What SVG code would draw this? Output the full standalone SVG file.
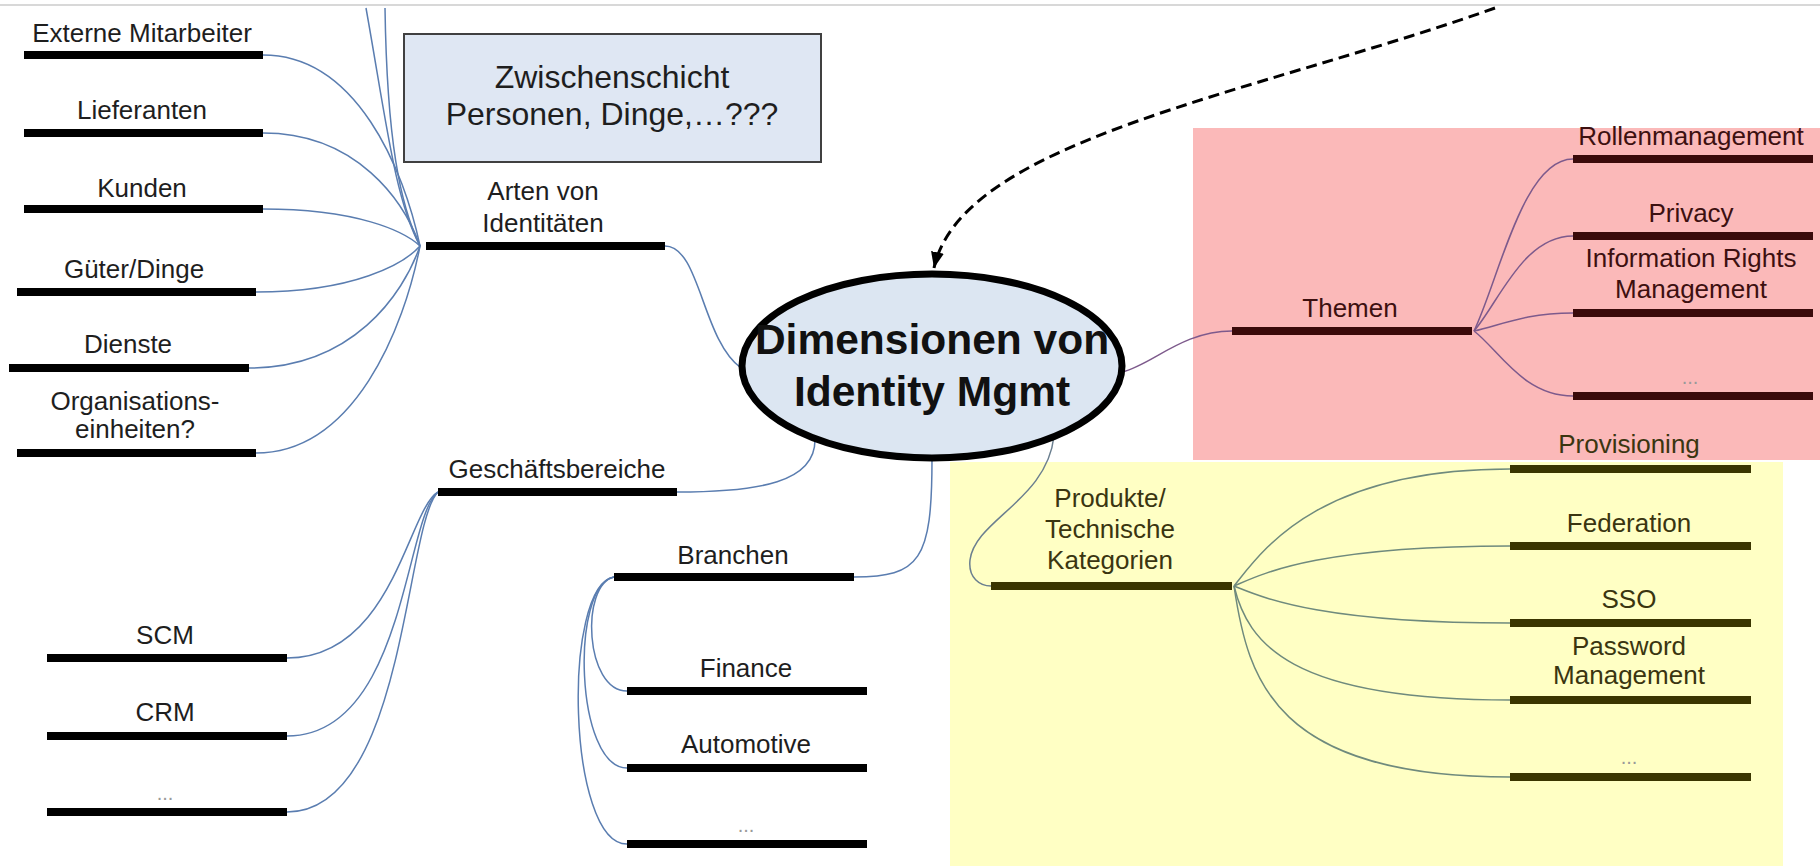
<svg xmlns="http://www.w3.org/2000/svg" width="1820" height="866" viewBox="0 0 1820 866">
<style>
.t{font-family:"Liberation Sans",Arial,sans-serif;font-size:26px;text-anchor:middle}
.tk{fill:#1e1e1e}
.tr{fill:#3d1010}
.to{fill:#3a3510}
.dots{font-family:"Liberation Sans",Arial,sans-serif;font-size:20px;text-anchor:middle;fill:#9a9a9a}
.bk{fill:#000}
.br{fill:#3a0a0a}
.bo{fill:#3a3500}
.c{fill:none;stroke-width:1.5}
.cb{stroke:#5a7db0}
.cp{stroke:#7d5a8c}
.cg{stroke:#6f8a7d}
.cs{stroke:#6b7f8f}
</style>
<defs>
<marker id="arr" markerUnits="userSpaceOnUse" markerWidth="18" markerHeight="14" refX="16" refY="6.5" orient="auto">
<path d="M0,0 L16,6.5 L0,13 z" fill="#000"/>
</marker>
</defs>
<rect x="0" y="0" width="1820" height="866" fill="#fff"/>
<line x1="0" y1="5" x2="1820" y2="5" stroke="#d8d8d8" stroke-width="2"/>
<g id="zone-themen"><rect x="1193" y="128" width="627" height="332" fill="#fbb9b9"/></g>
<g id="zone-produkte"><rect x="950" y="462" width="833" height="404" fill="#ffffc4"/></g>
<g id="connectors">
<path class="c cb" d="M420,246 C395,200 386,120 366,8"/>
<path class="c cb" d="M420,246 C400,205 387,140 385,8"/>
<path class="c cb" d="M420,246 C404,170 357,55 263,55"/>
<path class="c cb" d="M420,246 C404,201 357,133 263,133"/>
<path class="c cb" d="M420,246 C404,231 357,209 263,209"/>
<path class="c cb" d="M420,246 C404,264 354,292 256,292"/>
<path class="c cb" d="M420,246 C403,295 352,368 249,368"/>
<path class="c cb" d="M420,246 C404,329 354,453 256,453"/>
<path class="c cb" d="M438,492 C408,509 393,658 287,658"/>
<path class="c cb" d="M438,492 C405,516 405,736 287,736"/>
<path class="c cb" d="M438,492 C405,524 405,812 287,812"/>
<path class="c cb" d="M614,577 C580,585 585,691 627,691"/>
<path class="c cb" d="M614,577 C570,585 575,768 627,768"/>
<path class="c cb" d="M614,577 C562,585 567,844 627,844"/>
<path class="c cp" d="M1474,331 C1499,279 1523,159 1573,159"/>
<path class="c cp" d="M1474,331 C1499,302 1523,236 1573,236"/>
<path class="c cp" d="M1474,331 C1499,326 1523,313 1573,313"/>
<path class="c cp" d="M1474,331 C1499,350 1523,396 1573,396"/>
<path class="c cg" d="M1234,586 C1262,551 1317,469 1510,469"/>
<path class="c cg" d="M1234,586 C1262,574 1317,546 1510,546"/>
<path class="c cg" d="M1234,586 C1262,597 1317,623 1510,623"/>
<path class="c cg" d="M1234,586 C1248,643 1289,700 1510,700"/>
<path class="c cg" d="M1234,586 C1248,681 1275,777 1510,777"/>
<path class="c cb" d="M665,246 C700,246 702,340 741,368"/>
<path class="c cb" d="M677,492 C760,492 815,482 815,440"/>
<path class="c cb" d="M854,577 C920,577 932,560 932,459"/>
<path class="c cs" d="M1054,436 C1047,500 975,520 970,560 C968,578 980,586 991,586"/>
<path class="c cp" d="M1122,372 C1152,365 1182,331 1232,331"/>
<path d="M1495,8 C1250,95 962,140 934,268" fill="none" stroke="#000" stroke-width="3" stroke-dasharray="11 6" marker-end="url(#arr)"/>
</g>
<g id="zwischenschicht">
<rect x="404" y="34" width="417" height="128" fill="#dfe7f3" stroke="#404040" stroke-width="2"/>
<text class="t tk" style="font-size:32px" x="612" y="88">Zwischenschicht</text>
<text class="t tk" style="font-size:32px" x="612" y="125">Personen, Dinge,…???</text>
</g>
<g id="arten">
<rect class="bk" x="426" y="242" width="239" height="8"/>
<text class="t tk" x="543" y="200">Arten von</text>
<text class="t tk" x="543" y="232">Identitäten</text>
</g>
<g id="externe">
<rect class="bk" x="24" y="51" width="239" height="8"/>
<text class="t tk" x="142" y="42">Externe Mitarbeiter</text>
</g>
<g id="lieferanten">
<rect class="bk" x="24" y="129" width="239" height="8"/>
<text class="t tk" x="142" y="119">Lieferanten</text>
</g>
<g id="kunden">
<rect class="bk" x="24" y="205" width="239" height="8"/>
<text class="t tk" x="142" y="197">Kunden</text>
</g>
<g id="gueter">
<rect class="bk" x="17" y="288" width="239" height="8"/>
<text class="t tk" x="134" y="278">Güter/Dinge</text>
</g>
<g id="dienste">
<rect class="bk" x="9" y="364" width="240" height="8"/>
<text class="t tk" x="128" y="353">Dienste</text>
</g>
<g id="organisation">
<rect class="bk" x="17" y="449" width="239" height="8"/>
<text class="t tk" x="135" y="410">Organisations-</text>
<text class="t tk" x="135" y="438">einheiten?</text>
</g>
<g id="geschaeftsbereiche">
<rect class="bk" x="438" y="488" width="239" height="8"/>
<text class="t tk" x="557" y="478">Geschäftsbereiche</text>
</g>
<g id="scm">
<rect class="bk" x="47" y="654" width="240" height="8"/>
<text class="t tk" x="165" y="644">SCM</text>
</g>
<g id="crm">
<rect class="bk" x="47" y="732" width="240" height="8"/>
<text class="t tk" x="165" y="721">CRM</text>
</g>
<g id="gb-more">
<rect class="bk" x="47" y="808" width="240" height="8"/>
<text class="dots" x="165" y="800">...</text>
</g>
<g id="branchen">
<rect class="bk" x="614" y="573" width="240" height="8"/>
<text class="t tk" x="733" y="564">Branchen</text>
</g>
<g id="finance">
<rect class="bk" x="627" y="687" width="240" height="8"/>
<text class="t tk" x="746" y="677">Finance</text>
</g>
<g id="automotive">
<rect class="bk" x="627" y="764" width="240" height="8"/>
<text class="t tk" x="746" y="753">Automotive</text>
</g>
<g id="br-more">
<rect class="bk" x="627" y="840" width="240" height="8"/>
<text class="dots" x="746" y="832">...</text>
</g>
<g id="themen">
<rect class="br" x="1232" y="327" width="240" height="8"/>
<text class="t tr" x="1350" y="317">Themen</text>
</g>
<g id="rollen">
<rect class="br" x="1573" y="155" width="240" height="8"/>
<text class="t tr" x="1691" y="145">Rollenmanagement</text>
</g>
<g id="privacy">
<rect class="br" x="1573" y="232" width="240" height="8"/>
<text class="t tr" x="1691" y="222">Privacy</text>
</g>
<g id="irm">
<rect class="br" x="1573" y="309" width="240" height="8"/>
<text class="t tr" x="1691" y="267">Information Rights</text>
<text class="t tr" x="1691" y="298">Management</text>
</g>
<g id="th-more">
<rect class="br" x="1573" y="392" width="240" height="8"/>
<text class="dots" x="1690" y="384">...</text>
</g>
<g id="produkte">
<rect class="bo" x="991" y="582" width="241" height="8"/>
<text class="t to" x="1110" y="507">Produkte/</text>
<text class="t to" x="1110" y="538">Technische</text>
<text class="t to" x="1110" y="569">Kategorien</text>
</g>
<g id="provisioning">
<rect class="bo" x="1510" y="465" width="241" height="8"/>
<text class="t to" x="1629" y="453">Provisioning</text>
</g>
<g id="federation">
<rect class="bo" x="1510" y="542" width="241" height="8"/>
<text class="t to" x="1629" y="532">Federation</text>
</g>
<g id="sso">
<rect class="bo" x="1510" y="619" width="241" height="8"/>
<text class="t to" x="1629" y="608">SSO</text>
</g>
<g id="password">
<rect class="bo" x="1510" y="696" width="241" height="8"/>
<text class="t to" x="1629" y="655">Password</text>
<text class="t to" x="1629" y="684">Management</text>
</g>
<g id="pr-more">
<rect class="bo" x="1510" y="773" width="241" height="8"/>
<text class="dots" x="1629" y="764">...</text>
</g>
<g id="center">
<ellipse cx="932" cy="366" rx="190" ry="92" fill="#dce6f2" stroke="#000" stroke-width="7"/>
<text class="t" style="font-size:42.5px;font-weight:bold;fill:#111" x="932" y="354">Dimensionen von</text>
<text class="t" style="font-size:42.5px;font-weight:bold;fill:#111" x="932" y="406">Identity Mgmt</text>
</g>
</svg>
